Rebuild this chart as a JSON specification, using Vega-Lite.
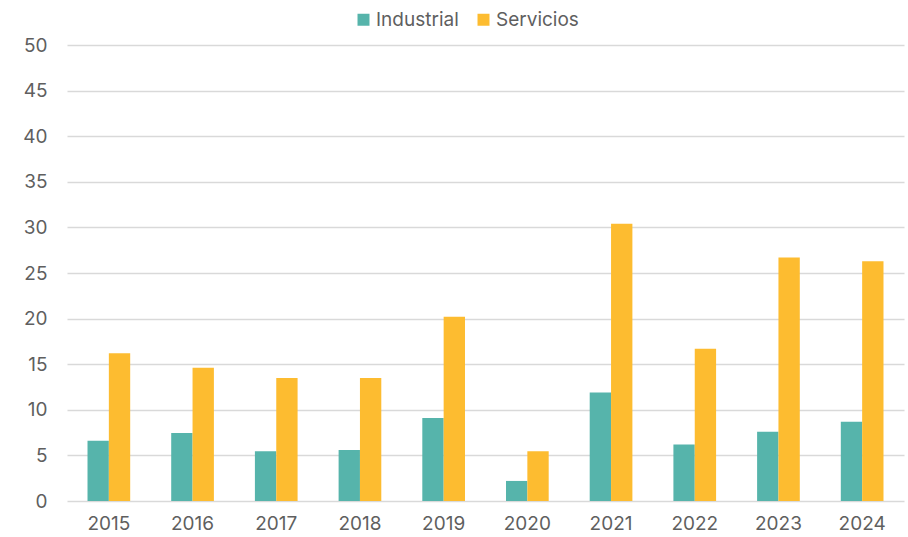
{
  "$schema": "https://vega.github.io/schema/vega-lite/v6.json",
  "autosize": {"type": "none"},
  "width": 837,
  "height": 456,
  "padding": {"left": 67, "top": 45, "right": 4, "bottom": 36},
  "background": "white",
  "config": {
    "font": "Inter",
    "view": {"stroke": null},
    "axis": {"labelFont": "Inter", "labelColor": "#5f5f5f", "labelFontSize": 19}
  },
  "data": {
    "values": [
      {"year": "2015", "sector": "Industrial", "value": 6.6},
      {"year": "2015", "sector": "Servicios", "value": 16.2},
      {"year": "2016", "sector": "Industrial", "value": 7.45},
      {"year": "2016", "sector": "Servicios", "value": 14.6},
      {"year": "2017", "sector": "Industrial", "value": 5.45},
      {"year": "2017", "sector": "Servicios", "value": 13.5},
      {"year": "2018", "sector": "Industrial", "value": 5.6},
      {"year": "2018", "sector": "Servicios", "value": 13.5},
      {"year": "2019", "sector": "Industrial", "value": 9.1},
      {"year": "2019", "sector": "Servicios", "value": 20.2},
      {"year": "2020", "sector": "Industrial", "value": 2.2},
      {"year": "2020", "sector": "Servicios", "value": 5.45},
      {"year": "2021", "sector": "Industrial", "value": 11.9},
      {"year": "2021", "sector": "Servicios", "value": 30.4},
      {"year": "2022", "sector": "Industrial", "value": 6.2},
      {"year": "2022", "sector": "Servicios", "value": 16.7},
      {"year": "2023", "sector": "Industrial", "value": 7.6},
      {"year": "2023", "sector": "Servicios", "value": 26.7},
      {"year": "2024", "sector": "Industrial", "value": 8.7},
      {"year": "2024", "sector": "Servicios", "value": 26.3}
    ]
  },
  "mark": {"type": "bar"},
  "encoding": {
    "x": {
      "field": "year", "type": "nominal",
      "scale": {"paddingInner": 0.49, "paddingOuter": 0.245},
      "axis": {"title": null, "labelAngle": 0, "ticks": false, "domain": false, "labelPadding": 13}
    },
    "xOffset": {"field": "sector", "type": "nominal", "scale": {"paddingInner": 0}},
    "y": {
      "field": "value", "type": "quantitative",
      "scale": {"domain": [0, 50]},
      "axis": {"title": null, "values": [0, 5, 10, 15, 20, 25, 30, 35, 40, 45, 50], "ticks": false, "domain": false, "labelPadding": 20, "gridColor": "#d9d9d9", "gridWidth": 1.5}
    },
    "color": {
      "field": "sector", "type": "nominal",
      "scale": {"domain": ["Industrial", "Servicios"], "range": ["#56B4AB", "#FDBC30"]},
      "legend": {
        "title": null, "orient": "none", "direction": "horizontal",
        "legendX": 287, "legendY": -35,
        "symbolType": "square", "symbolSize": 144, "symbolStrokeWidth": 0,
        "labelFontSize": 19, "labelColor": "#5f5f5f", "labelFont": "Inter",
        "columnPadding": 15, "labelOffset": 3
      }
    }
  }
}
